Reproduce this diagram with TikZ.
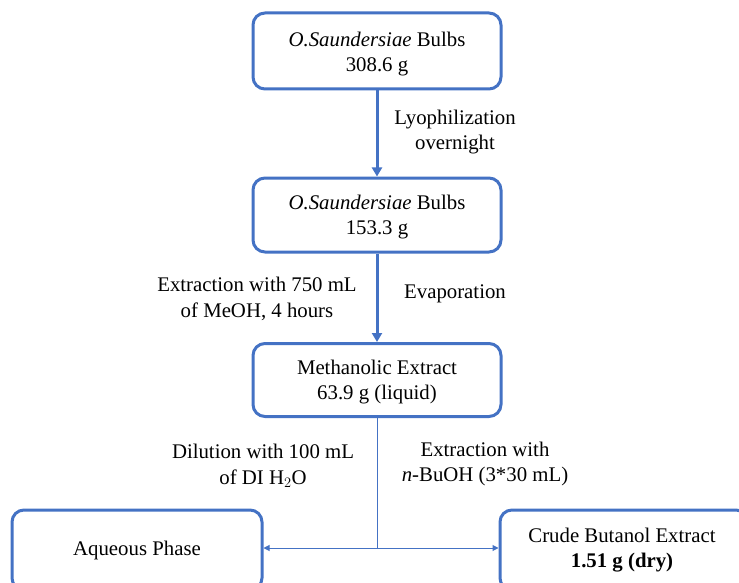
\documentclass[tikz,border=0pt]{standalone}
\usepackage{fontspec}
\setmainfont{Liberation Serif}
\usetikzlibrary{arrows.meta}
\definecolor{boxblue}{HTML}{4472C4}
\begin{document}
\begin{tikzpicture}[x=1pt,y=-1pt,
  stepbox/.style={draw=boxblue, line width=3pt, rounded corners=12pt, fill=white,
    align=center, font=\fontsize{20.8}{25.5}\selectfont, inner sep=0pt},
  lbl/.style={align=center, font=\fontsize{20.8}{25.5}\selectfont, inner sep=0pt},
  thick flow/.style={draw=boxblue, line width=3pt, -{Triangle[width=10pt,length=9pt]}},
  thin flow/.style={draw=boxblue, line width=1pt, -{Triangle[width=6pt,length=6pt]}}]
\useasboundingbox (0,0) rectangle (739,583);
\clip (0,0) rectangle (739,583);

% main column
\node[stepbox, minimum width=248pt, minimum height=76pt] (bulbs) at (377,51) {};
\node[lbl] (bulbstext) at (377,54) {\textit{O.Saundersiae} Bulbs\\308.6 g};
\node[stepbox, minimum width=248pt, minimum height=74pt] (dried) at (377,215) {};
\node[lbl] (driedtext) at (377,217) {\textit{O.Saundersiae} Bulbs\\153.3 g};
\node[stepbox, minimum width=248pt, minimum height=73pt] (meoh) at (377,380) {};
\node[lbl] (meohtext) at (377,382) {Methanolic Extract\\63.9 g (liquid)};

% partition products
\node[stepbox, minimum width=250pt, minimum height=80pt] (aq) at (137,550)
  {Aqueous Phase};
\node[stepbox, minimum width=248pt, minimum height=80pt] (buoh) at (624,550) {};
\node[lbl] (buohtext) at (622,550) {Crude Butanol Extract\\\textbf{1.51 g (dry)}};

% connectors
\draw[thick flow] (bulbs.south) -- (dried.north);
\draw[thick flow] (dried.south) -- (meoh.north);
\coordinate (split) at (377,548);
\draw[boxblue, line width=1pt] (meoh.south) -- (split);
\draw[thin flow] (split) -- (split -| aq.east);
\draw[thin flow] (split) -- (split -| buoh.west);

% step labels
\node[lbl] (lyo) at (455,132) {Lyophilization\\overnight};
\node[lbl] (ext) at (257,299) {Extraction with 750 mL\\of MeOH, 4 hours};
\node[lbl] (evap) at (455,294) {Evaporation};
\node[lbl] (dil) at (263,466) {Dilution with 100 mL\\of DI H$_2$O};
\node[lbl] (bu) at (485,464) {Extraction with\\\textit{n}-BuOH (3*30 mL)};
\end{tikzpicture}
\end{document}
